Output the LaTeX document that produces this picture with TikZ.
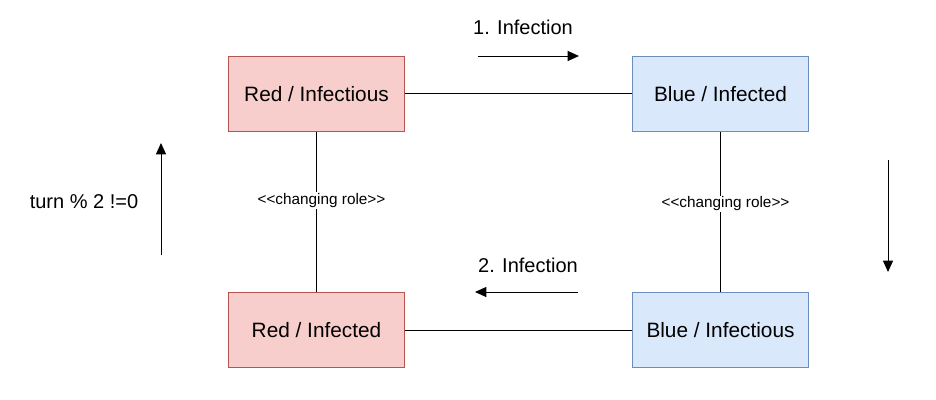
\documentclass[tikz,border=0pt]{standalone}
\usepackage{fontspec}
\setmainfont{Liberation Sans}
\usetikzlibrary{matrix,arrows.meta}
\definecolor{redfill}{HTML}{F8CECC}
\definecolor{redline}{HTML}{B85450}
\definecolor{bluefill}{HTML}{DAE8FC}
\definecolor{blueline}{HTML}{6C8EBF}
\tikzset{
  redbox/.style={draw=redline,fill=redfill},
  bluebox/.style={draw=blueline,fill=bluefill},
  role/.style={fill=white,inner sep=1pt,font=\fontsize{11.5}{13}\selectfont},
  flow/.style={-{Triangle[length=8.5pt,width=7.5pt]},line width=0.75pt},
  caption/.style={font=\fontsize{15}{18}\selectfont}
}

\begin{document}
\begin{tikzpicture}[x=0.75pt,y=-0.75pt]
	\useasboundingbox (0,0) rectangle (936,400);
	\matrix (m) [matrix of nodes,row sep=120pt,column sep=170.25pt,ampersand replacement=\&,
		nodes={minimum width=132pt,minimum height=56.5pt,inner sep=0pt,line width=0.75pt,font=\fontsize{15.6}{18}\selectfont}]
		at (518.5,212)
	{
		|[redbox]| Red / Infectious \& |[bluebox]| Blue / Infected \\
		|[redbox]| Red / Infected \& |[bluebox]| Blue / Infectious \\};
	\path[draw,line width=0.75pt]
		(m-1-1) -- (m-1-2)
		(m-2-1) -- (m-2-2)
		(m-1-1) -- node[role,pos=0.43,xshift=3.75pt] {<{}<changing role>{}>} (m-2-1)
		(m-1-2) -- node[role,pos=0.45,xshift=3.75pt] {<{}<changing role>{}>} (m-2-2);
	% infection arrows
	\coordinate (i1a) at (478,56);
	\coordinate (i1b) at (579,56);
	\coordinate (i2a) at (578,292);
	\coordinate (i2b) at (475,292);
	\draw[flow] (i1a) -- (i1b);
	\draw[flow] (i2a) -- (i2b);
	\node[caption] (inf1) at (523,27) {1. Infection};
	\node[caption] (inf2) at (528,265) {2. Infection};
	% turn arrows
	\coordinate (t1a) at (161,255);
	\coordinate (t1b) at (161,143);
	\coordinate (t2a) at (888,160);
	\coordinate (t2b) at (888,272);
	\draw[flow] (t1a) -- (t1b);
	\draw[flow] (t2a) -- (t2b);
	\node[caption] (turn) at (84,202) {turn \% 2 !=0};
\end{tikzpicture}
\end{document}
